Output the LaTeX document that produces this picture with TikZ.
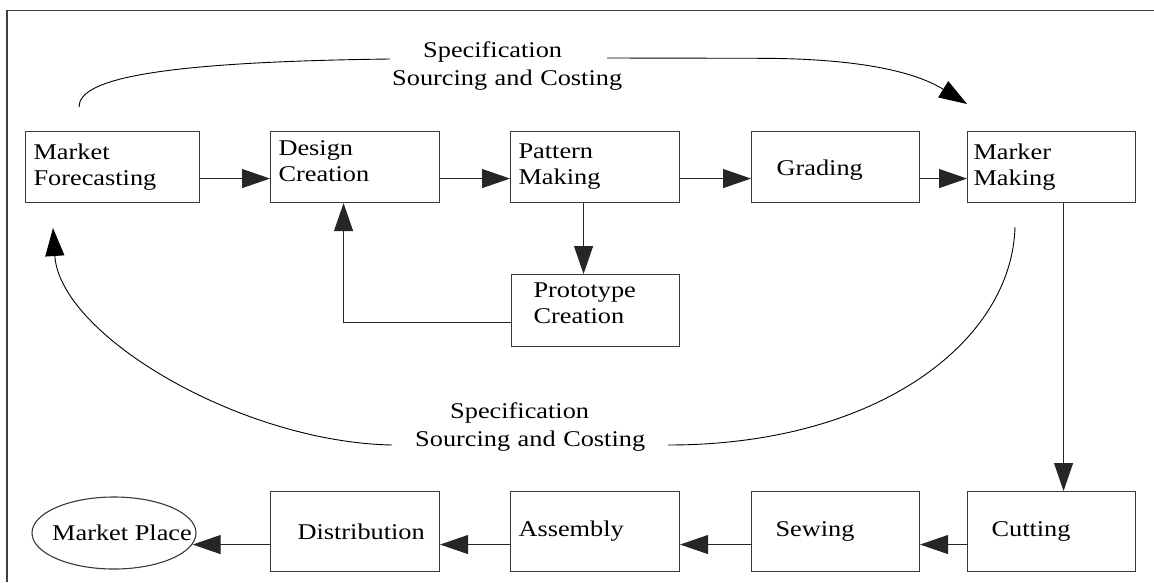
\documentclass[tikz,border=0pt]{standalone}
\usepackage{fontspec}
\setmainfont{Liberation Serif}[FakeStretch=1.17]
\usetikzlibrary{arrows.meta,shapes.geometric}

\newcommand\dgboxfont{\fontsize{22.5pt}{26pt}\selectfont}
\newcommand\dglabelfont{\fontsize{22.5pt}{28pt}\selectfont}

\tikzset{
  pbox/.style={draw=black!78, line width=1.1pt, inner xsep=0pt, inner ysep=0pt,
               align=left, anchor=north west, font=\dgboxfont},
  textinset/.style={execute at begin node={\leftskip=#1pt}},
  lbl/.style={inner sep=0pt, align=left, anchor=base west, font=\dglabelfont},
  tipstyle/.style={-{Triangle[length=28pt,width=19pt]}},
  flow/.style={draw=black!85, line width=1pt, tipstyle},
  curve/.style={draw=black, line width=0.9pt},
  frame/.style={draw=black!75, line width=1.2pt}
}

\begin{document}
\begin{tikzpicture}[x=1pt,y=-1pt]
  \useasboundingbox (0,0) rectangle (1154,582);

  % page frame
  \draw[frame] (7,582) -- (7,10.5) -- (1154,10.5);

  % upper process row
  \node[pbox, text width=174pt, minimum height=71pt, textinset=8]  (mf) at (25,131)  {Market\\Forecasting};
  \node[pbox, text width=169pt, minimum height=71pt, textinset=8, text depth=38pt] (dc) at (270,131) {Design\\Creation};
  \node[pbox, text width=169pt, minimum height=71pt, textinset=8]  (pm) at (510,131) {Pattern\\Making};
  \node[pbox, text width=168pt, minimum height=71pt, textinset=25, text height=17pt, text depth=0pt] (gr) at (751,131) {Grading};
  \node[pbox, text width=168pt, minimum height=71pt, textinset=6]  (mm) at (967,131) {Marker\\Making};
  \node[pbox, text width=168pt, minimum height=72pt, textinset=22, text depth=41pt] (proto) at (511,274) {Prototype\\Creation};

  % lower process row
  \node[pbox, text width=169pt, minimum height=80pt, textinset=27] (dist) at (270,491) {Distribution};
  \node[pbox, text width=169pt, minimum height=80pt, textinset=8]  (asm)  at (510,491) {Assembly};
  \node[pbox, text width=168pt, minimum height=80pt, textinset=24] (sew)  at (751,491) {Sewing};
  \node[pbox, text width=168pt, minimum height=80pt, textinset=24] (cut)  at (967,491) {Cutting};
  \node[ellipse, draw=black!78, line width=1.1pt, minimum width=164pt, minimum height=72pt,
        inner xsep=-25pt, inner ysep=0pt, font=\dgboxfont] (mp) at (114,533) {\hspace*{16pt}Market Place};

  % feedback labels
  \node[lbl, text width=240pt] (toplbl) at (392,57)  {\hspace*{31pt}Specification\\Sourcing and Costing};
  \node[lbl, text width=240pt] (botlbl) at (415,418) {\hspace*{35pt}Specification\\Sourcing and Costing};

  % upper row flow
  \draw[flow] ([yshift=-11.5pt]mf.east) -- ([yshift=-11.5pt]dc.west);
  \draw[flow] ([yshift=-11.5pt]dc.east) -- ([yshift=-11.5pt]pm.west);
  \draw[flow] ([yshift=-11.5pt]pm.east) -- ([yshift=-11.5pt]gr.west);
  \draw[flow] ([yshift=-11.5pt]gr.east) -- ([yshift=-11.5pt]mm.west);

  % prototype loop
  \coordinate (pmout) at ([xshift=-11.5pt]pm.south);
  \draw[flow] (pmout) -- (pmout |- proto.north);
  \draw[flow] ([yshift=-12pt]proto.west) -| ([xshift=-11.5pt]dc.south);

  % down to cutting
  \coordinate (mmout) at ([xshift=12pt]mm.south);
  \draw[flow] (mmout) -- (mmout |- cut.north);

  % lower row flow
  \draw[flow] ([yshift=-13pt]cut.west) -- ([yshift=-13pt]sew.east);
  \draw[flow] ([yshift=-13pt]sew.west) -- ([yshift=-13pt]asm.east);
  \draw[flow] ([yshift=-13pt]asm.west) -- ([yshift=-13pt]dist.east);
  \coordinate (dm) at ([yshift=-13pt]dist.west);
  \draw[flow] (dm) -- (dm -| mp.-8);

  % upper feedback curve
  \coordinate (tcs) at (79,107);
  \coordinate (tl)  at (390,59);
  \coordinate (tr)  at (607,58);
  \coordinate (tm)  at (760,58.3);
  \coordinate (tce) at (967,104);
  \draw[curve] (tcs) .. controls (79,80) and (150,62) .. (tl);
  \draw[curve, tipstyle] (tr) -- (tm) .. controls (880,58.5) and (925,78) .. (tce);

  % lower feedback curve
  \coordinate (bcs) at (1015,227);
  \coordinate (br)  at (668,445);
  \coordinate (bl)  at (392,445);
  \coordinate (bce) at (53,228);
  \draw[curve] (bcs) .. controls (1012,340) and (880,445) .. (br);
  \draw[curve, tipstyle] (bl) .. controls (240,442) and (60,335) .. (bce);
\end{tikzpicture}
\end{document}
